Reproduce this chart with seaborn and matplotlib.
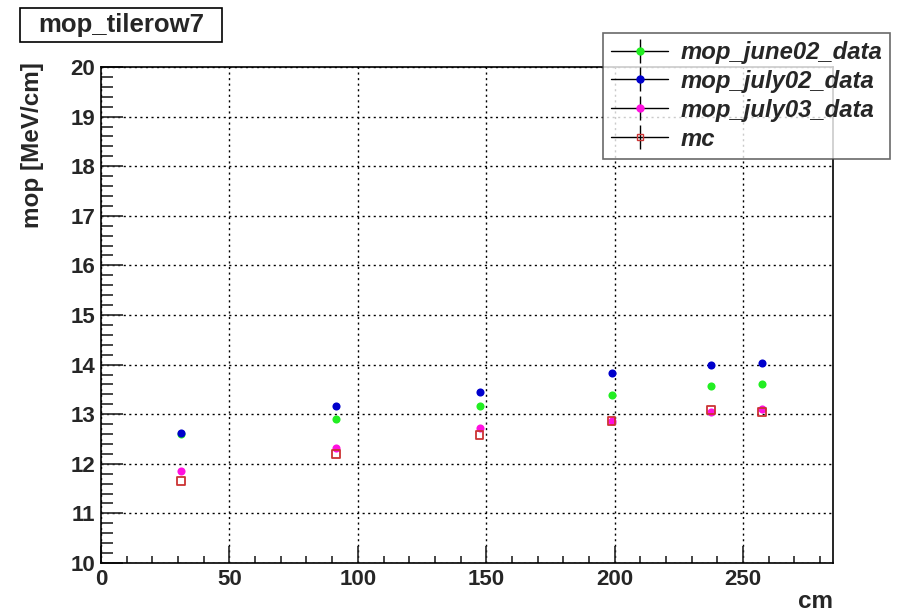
import matplotlib
matplotlib.use("Agg")
import matplotlib.pyplot as plt
from matplotlib.lines import Line2D
from matplotlib.patches import Rectangle
from matplotlib.ticker import MultipleLocator
import seaborn as sns
import pandas as pd

# ---- data ----
positions = [31.2, 91.6, 147.4, 198.8, 237.4, 257.3]
june02 = [12.60, 12.90, 13.17, 13.39, 13.57, 13.61]
july02 = [12.62, 13.17, 13.45, 13.83, 13.99, 14.03]
july03 = [11.85, 12.32, 12.72, 12.86, 13.04, 13.10]
mc = [11.65, 12.20, 12.58, 12.86, 13.08, 13.04]
series_names = ["mop_june02_data", "mop_july02_data", "mop_july03_data", "mc"]
title_text = "mop_tilerow7"
xlabel_text = "cm"
ylabel_text = "mop [MeV/cm]"

sns.set_style("white")
plt.rcParams["font.family"] = ["Liberation Sans", "DejaVu Sans"]

fig = plt.figure(figsize=(9.13, 6.16), dpi=100)
ax = fig.add_axes([101/913, 1-563/616, (833-101)/913, (563-67)/616])

colors = ["#22ee22", "#0000cc", "#ff10e0", "#cc3333"]
vals = [june02, july02, july03, mc]
for name, v, c in zip(series_names, vals, colors):
    df = pd.DataFrame({"x": positions, "y": v})
    if name == "mc":
        sns.scatterplot(data=df, x="x", y="y", ax=ax, marker="s", s=30,
                        facecolor="none", edgecolor=c, linewidth=1.3, zorder=3)
    else:
        sns.scatterplot(data=df, x="x", y="y", ax=ax, marker="o", s=34,
                        color=c, edgecolor=c, linewidth=0, zorder=3)

ax.set_xlim(0, 285)
ax.set_ylim(10, 20)
ax.xaxis.set_major_locator(MultipleLocator(50))
ax.xaxis.set_minor_locator(MultipleLocator(10))
ax.yaxis.set_major_locator(MultipleLocator(1))
ax.yaxis.set_minor_locator(MultipleLocator(0.2))
ax.tick_params(axis="x", which="major", direction="in", length=12, width=1.2,
               labelsize=16, pad=4, bottom=True, top=False)
ax.tick_params(axis="x", which="minor", direction="in", length=5, width=1.2,
               bottom=True, top=False)
ax.tick_params(axis="y", which="major", direction="in", length=16, width=1.2,
               labelsize=16, pad=4, left=True, right=False)
ax.tick_params(axis="y", which="minor", direction="in", length=8.5, width=1.2,
               left=True, right=False)
for lab in ax.get_xticklabels() + ax.get_yticklabels():
    lab.set_fontweight("bold")
ax.set_xlabel("")
ax.set_ylabel("")
ax.grid(True, which="major", color="black", linestyle=(0, (1.5, 2.5)), linewidth=1)
for sp in ax.spines.values():
    sp.set_color("black")
    sp.set_linewidth(1.2)

# legend
handles = []
for name, c in zip(series_names, colors):
    hl = Line2D([], [], color="black", lw=1)
    if name == "mc":
        mk = Line2D([], [], marker="s", markersize=5, markerfacecolor="none",
                    markeredgecolor=c, linestyle="none")
    else:
        mk = Line2D([], [], marker="o", markersize=5, markerfacecolor=c,
                    markeredgecolor=c, linestyle="none")
    vbar = Line2D([], [], marker="|", markersize=17, color="black",
                  markeredgewidth=1, linestyle="none")
    handles.append((hl, vbar, mk))
leg = ax.legend(handles, series_names, loc="upper left",
                bbox_to_anchor=(603/913, 1-33/616), bbox_transform=fig.transFigure,
                frameon=True, fancybox=False, handlelength=2.4, handletextpad=0.5,
                labelspacing=0.25, borderpad=0.33, borderaxespad=0,
                prop={"size": 17.2, "weight": "bold", "style": "italic"})
leg.get_frame().set_edgecolor("#444444")
leg.get_frame().set_linewidth(1.2)
leg.set_zorder(10)

fig.patches.append(Rectangle((20/913, 1-42/616), (222-20)/913, (42-8)/616,
                             transform=fig.transFigure, facecolor="white",
                             edgecolor="black", linewidth=1.2, zorder=1))
fig.text(121/913, 1-25/616, title_text, ha="center", va="center",
         fontsize=18.5, fontweight="bold", zorder=2)
fig.text(33/913, 1-62/616, ylabel_text, rotation=90, ha="center", va="top",
         fontsize=17.5, fontweight="bold")
fig.text(833/913, 1-601/616, xlabel_text, ha="right", va="center",
         fontsize=17.5, fontweight="bold")

fig.savefig("out.png", dpi=100)
